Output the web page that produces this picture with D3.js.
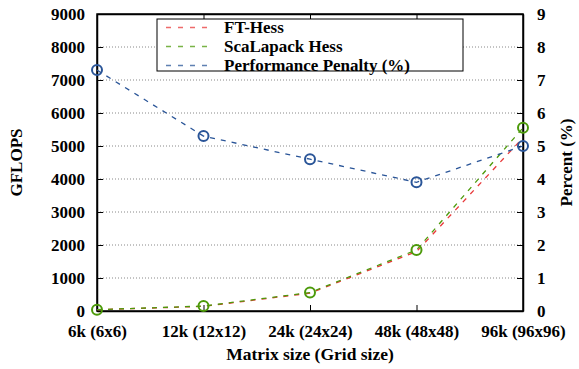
<!DOCTYPE html>
<html><head><meta charset="utf-8">
<script src="https://cdn.jsdelivr.net/npm/d3@7"></script>
<style>body{margin:0;background:#fff}</style>
</head><body>
<script>
const categories = ["6k (6x6)", "12k (12x12)", "24k (24x24)", "48k (48x48)", "96k (96x96)"];
const ftHess = [40, 140, 540, 1800, 5250];
const scaLapack = [40, 150, 560, 1850, 5550];
const penalty = [7.3, 5.3, 4.6, 3.9, 5.0];
const leftTicks = [0,1000,2000,3000,4000,5000,6000,7000,8000,9000];
const rightTicks = [0,1,2,3,4,5,6,7,8,9];
const legendLabels = ["FT-Hess", "ScaLapack Hess", "Performance Penalty (%)"];
const colors = ["#e8393a", "#4c9a0a", "#2a5598"];

const W = 579, H = 369;
const m = {l:97, r:56, t:14, b:58};
const FONT = "'Liberation Serif', 'Times New Roman', serif";
const svg = d3.select("body").append("svg").attr("width", W).attr("height", H)
  .style("font-family", FONT).style("font-weight", "bold");

const x = d3.scalePoint().domain(categories).range([m.l, W - m.r]);
const yL = d3.scaleLinear().domain([0, 9000]).range([H - m.b, m.t]);
const yR = d3.scaleLinear().domain([0, 9]).range([H - m.b, m.t]);

// grid
svg.append("g").selectAll("line").data(leftTicks.slice(1, -1)).join("line")
  .attr("x1", m.l).attr("x2", W - m.r).attr("y1", d => yL(d)).attr("y2", d => yL(d))
  .attr("stroke", "#888").attr("stroke-width", 1).attr("stroke-dasharray", "1,2");

// axes
const axL = svg.append("g").attr("transform", `translate(${m.l},0)`)
  .call(d3.axisLeft(yL).tickValues(leftTicks).tickFormat(d3.format("d")).tickSizeInner(-6).tickSizeOuter(0).tickPadding(12));
const axR = svg.append("g").attr("transform", `translate(${W - m.r},0)`)
  .call(d3.axisRight(yR).tickValues(rightTicks).tickFormat(d3.format("d")).tickSizeInner(-6).tickSizeOuter(0).tickPadding(14));
const axB = svg.append("g").attr("transform", `translate(0,${H - m.b})`)
  .call(d3.axisBottom(x).tickSizeInner(-6).tickSizeOuter(0).tickPadding(12));
const axT = svg.append("g").attr("transform", `translate(0,${m.t})`)
  .call(d3.axisTop(x).tickSizeInner(-6).tickSizeOuter(0).tickFormat(""));
[axL, axR, axB, axT].forEach(g => {
  g.attr("font-family", FONT).attr("font-size", 17).attr("font-weight", "bold");
  g.selectAll("text").attr("fill", "#000");
  g.selectAll("line").attr("stroke", "#000");
  g.select(".domain").attr("stroke", "#000").attr("stroke-width", 1.5);
});
axB.selectAll("text").attr("dy", "0.85em");
axL.selectAll("text").attr("dy", "0.35em");

// frame
svg.append("rect").attr("x", m.l).attr("y", m.t).attr("width", W - m.r - m.l).attr("height", H - m.b - m.t)
  .attr("fill", "none").attr("stroke", "#000").attr("stroke-width", 1.5);

// lines
const lineL = d3.line().x((d, i) => x(categories[i])).y(d => yL(d));
const lineR = d3.line().x((d, i) => x(categories[i])).y(d => yR(d));
svg.append("path").datum(ftHess).attr("d", lineL).attr("fill", "none")
  .attr("stroke", colors[0]).attr("stroke-width", 1.3).attr("stroke-dasharray", "5,6");
svg.append("path").datum(scaLapack).attr("d", lineL).attr("fill", "none")
  .attr("stroke", colors[1]).attr("stroke-width", 1.3).attr("stroke-dasharray", "5,6");
svg.append("path").datum(penalty).attr("d", lineR).attr("fill", "none")
  .attr("stroke", colors[2]).attr("stroke-width", 1.3).attr("stroke-dasharray", "5,6");

svg.append("g").selectAll("circle").data(scaLapack).join("circle")
  .attr("cx", (d, i) => x(categories[i])).attr("cy", d => yL(d)).attr("r", 5)
  .attr("fill", "none").attr("stroke", colors[1]).attr("stroke-width", 2);
svg.append("g").selectAll("circle").data(penalty).join("circle")
  .attr("cx", (d, i) => x(categories[i])).attr("cy", d => yR(d)).attr("r", 5)
  .attr("fill", "none").attr("stroke", colors[2]).attr("stroke-width", 2);

// axis titles
svg.append("text").attr("transform", `translate(22,${(m.t + H - m.b) / 2}) rotate(-90)`)
  .attr("text-anchor", "middle").style("font-size", "17px").text("GFLOPS");
svg.append("text").attr("transform", `translate(572,${(m.t + H - m.b) / 2}) rotate(-90)`)
  .attr("text-anchor", "middle").style("font-size", "17px").text("Percent (%)");
svg.append("text").attr("x", (m.l + W - m.r) / 2).attr("y", 360)
  .attr("text-anchor", "middle").style("font-size", "17.5px").text("Matrix size (Grid size)");

// legend
const lg = svg.append("g");
lg.append("rect").attr("x", 157).attr("y", 19).attr("width", 306).attr("height", 52)
  .attr("fill", "#fff").attr("stroke", "#000").attr("stroke-width", 1);
legendLabels.forEach((t, i) => {
  const yy = 27.5 + i * 19;
  lg.append("line").attr("x1", 166).attr("x2", 212).attr("y1", yy).attr("y2", yy)
    .attr("stroke", colors[i]).attr("stroke-width", 1.3).attr("stroke-dasharray", "5,7").attr("stroke-opacity", 0.75);
  lg.append("text").attr("x", 224).attr("y", yy).attr("dy", "0.35em").style("font-size", "17px").text(t);
});
</script>
</body></html>
